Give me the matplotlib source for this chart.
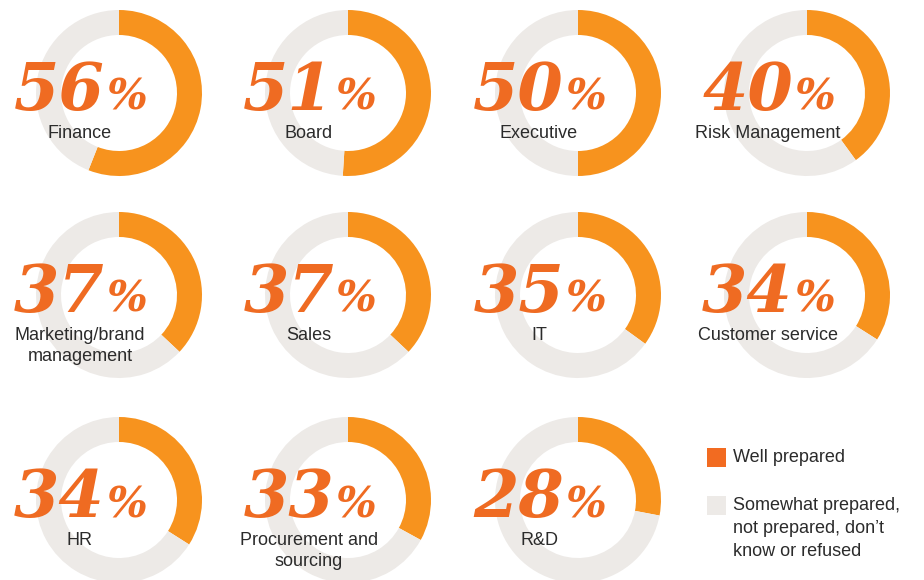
import matplotlib
matplotlib.use("Agg")
import matplotlib.pyplot as plt
from matplotlib.patches import Rectangle

# share of respondents "well prepared", by function
functions = ["Finance", "Board", "Executive", "Risk Management",
             "Marketing/brand\nmanagement", "Sales", "IT", "Customer service",
             "HR", "Procurement and\nsourcing", "R&D"]
well_prepared = [56, 51, 50, 40, 37, 37, 35, 34, 34, 33, 28]
legend_labels = ["Well prepared",
                 "Somewhat prepared,\nnot prepared, don\u2019t\nknow or refused"]

RING = "#F7931E"
NUM = "#EF6B22"
KEY = "#F26B21"
GREY = "#EDEAE7"
TEXT = "#2b2b2b"

W, H = 924, 580
col_x = [119, 348, 578, 807]
row_y = [H - 93, H - 295, H - 500]
outer_r, ring_w = 83, 25

fig = plt.figure(figsize=(W / 100, H / 100), dpi=100)
ax = fig.add_axes([0, 0, 1, 1])

for i, (name, pct) in enumerate(zip(functions, well_prepared)):
    cx = col_x[i % 4]
    cy = row_y[i // 4]
    ax.pie([pct, 100 - pct], colors=[RING, GREY], center=(cx, cy),
           radius=outer_r, startangle=90, counterclock=False, frame=True,
           wedgeprops=dict(width=ring_w, linewidth=0))
    base = cy - 17
    ax.text(cx - 14, base, str(pct), ha="right", va="baseline",
            fontsize=47, fontweight="bold", fontstyle="italic",
            family="DejaVu Serif", color=NUM)
    ax.text(cx - 13, base, "%", ha="left", va="baseline",
            fontsize=31, fontweight="bold", fontstyle="italic",
            family="DejaVu Serif", color=NUM)
    ax.text(cx - 39, cy - 32, name, ha="center", va="top",
            fontsize=13, family="Liberation Sans", color=TEXT,
            linespacing=1.3)

# legend
for (y, colour, label) in [(H - 457, KEY, legend_labels[0]),
                           (H - 505, GREY, legend_labels[1])]:
    ax.add_patch(Rectangle((707, y - 9.5), 19, 19, facecolor=colour,
                           edgecolor="none"))
    ax.text(733, y + 8, label, ha="left", va="top", fontsize=13,
            family="Liberation Sans", color=TEXT, linespacing=1.45)

ax.set_xlim(0, W)
ax.set_ylim(0, H)
ax.set_aspect("equal")
ax.axis("off")

fig.savefig("out.png", dpi=100, facecolor="white")
